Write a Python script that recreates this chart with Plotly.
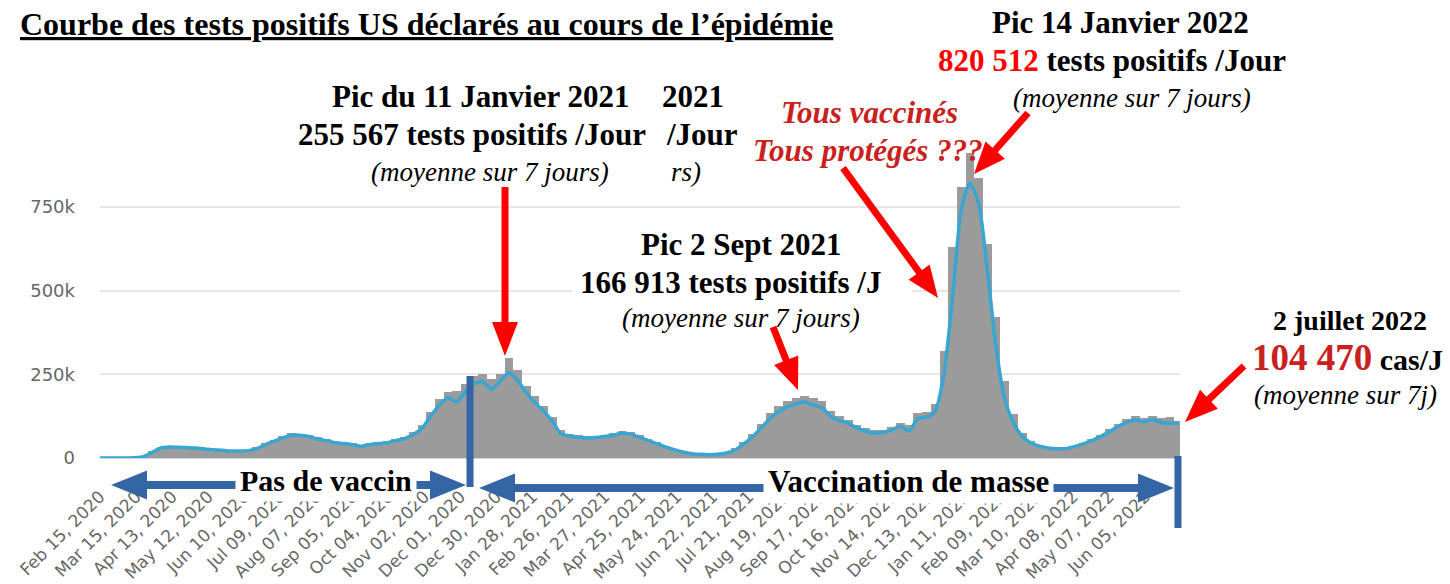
import math
import pandas as pd
import plotly.graph_objects as go

# ---------------- data ----------------
first_week = "2020-02-15"          # weekly points, 7 days apart, up to 2022-07-02
# 7-day average of positive tests, thousands
avg7_k = [0, 0, 0, 0.1, 0.6, 4, 17, 30, 33, 32,
          31, 30, 27, 25, 23, 21, 21, 22, 28, 40,
          50, 60, 68, 68, 64, 57, 52, 46, 43, 40,
          35, 40, 43, 46, 52, 58, 70, 88, 125, 158,
          180, 168, 198, 222, 228, 205, 230, 255, 232, 195,
          165, 140, 110, 72, 66, 62, 60, 61, 64, 68,
          74, 71, 62, 52, 43, 33, 25, 18, 13, 11,
          10, 11, 15, 24, 42, 63, 90, 118, 138, 152,
          162, 167, 158, 150, 124, 112, 103, 90, 80, 75,
          76, 84, 94, 80, 118, 122, 140, 250, 480, 740,
          820, 760, 560, 330, 175, 105, 65, 45, 35, 30,
          28, 28, 34, 42, 52, 64, 78, 94, 106, 114,
          108, 115, 106, 104, 104]
# highest daily count of each week, thousands (grey bars)
daily_high_k = [0, 0, 0, 0.2, 1, 6, 21, 33, 35, 34,
                33, 32, 29, 27, 25, 23, 23, 25, 32, 45,
                55, 66, 74, 73, 68, 62, 56, 50, 47, 44,
                40, 44, 47, 50, 56, 64, 78, 98, 138, 175,
                198, 200, 222, 245, 250, 235, 252, 300, 262, 215,
                185, 155, 122, 84, 72, 68, 66, 67, 70, 75,
                80, 77, 68, 58, 48, 37, 28, 21, 16, 13,
                12, 13, 18, 29, 48, 72, 102, 135, 155, 170,
                178, 186, 180, 170, 140, 125, 115, 100, 90, 83,
                84, 93, 105, 100, 135, 136, 160, 320, 630, 810,
                910, 835, 640, 420, 230, 130, 75, 50, 38, 33,
                30, 31, 37, 46, 57, 70, 86, 103, 118, 124,
                120, 126, 120, 122, 112]

x_tick_labels = ["Feb 15, 2020", "Mar 15, 2020", "Apr 13, 2020", "May 12, 2020", "Jun 10, 2020",
                 "Jul 09, 2020", "Aug 07, 2020", "Sep 05, 2020", "Oct 04, 2020", "Nov 02, 2020",
                 "Dec 01, 2020", "Dec 30, 2020", "Jan 28, 2021", "Feb 26, 2021", "Mar 27, 2021",
                 "Apr 25, 2021", "May 24, 2021", "Jun 22, 2021", "Jul 21, 2021", "Aug 19, 2021",
                 "Sep 17, 2021", "Oct 16, 2021", "Nov 14, 2021", "Dec 13, 2021", "Jan 11, 2022",
                 "Feb 09, 2022", "Mar 10, 2022", "Apr 08, 2022", "May 07, 2022", "Jun 05, 2022"]
y_tick_values = [0, 250000, 500000, 750000]
y_tick_labels = ["0", "250k", "500k", "750k"]

# ---------------- build ----------------
weeks = pd.date_range(first_week, periods=len(avg7_k), freq="7D")
avg7 = [v * 1000 for v in avg7_k]
daily_high = [v * 1000 for v in daily_high_k]
tick_dates = pd.to_datetime(x_tick_labels, format="%b %d, %Y")

fig = go.Figure()
fig.add_trace(go.Bar(x=weeks, y=daily_high, width=7 * 86400000,
                     marker=dict(color="#9b9b9b", line=dict(width=0)), hoverinfo="skip"))
fig.add_trace(go.Scatter(x=weeks, y=avg7, mode="lines",
                         line=dict(color="#38a6d0", width=3.5, shape="spline", smoothing=0.7),
                         hoverinfo="skip"))

# plot area in pixels (for decorations)
L_PX, R_PX, T_PX, B_PX = 100, 1180, 140, 458
W, H = 1450, 584


def fx(x):
    return (x - L_PX) / (R_PX - L_PX)


def fy(y):
    return (B_PX - y) / (B_PX - T_PX)


shapes = []


def add_line(x0, y0, x1, y1, color, w):
    shapes.append(dict(type="line", xref="paper", yref="paper", layer="above",
                       x0=fx(x0), y0=fy(y0), x1=fx(x1), y1=fy(y1),
                       line=dict(color=color, width=w)))


def head(tip, frm, hl, hw, color):
    dx, dy = tip[0] - frm[0], tip[1] - frm[1]
    n = math.hypot(dx, dy)
    ux, uy = dx / n, dy / n
    bx, by = tip[0] - ux * hl, tip[1] - uy * hl
    nx, ny = -uy, ux
    p1 = (bx + nx * hw / 2, by + ny * hw / 2)
    p2 = (bx - nx * hw / 2, by - ny * hw / 2)
    path = "M {},{} L {},{} L {},{} Z".format(fx(tip[0]), fy(tip[1]), fx(p1[0]), fy(p1[1]),
                                              fx(p2[0]), fy(p2[1]))
    shapes.append(dict(type="path", xref="paper", yref="paper", layer="above", path=path,
                       fillcolor=color, line=dict(width=0, color=color)))
    return (tip[0] - ux * (hl - 2), tip[1] - uy * (hl - 2))


def arrow(tail, tip, color, w, hl, hw, double=False):
    end = head(tip, tail, hl, hw, color)
    start = head(tail, tip, hl, hw, color) if double else tail
    add_line(start[0], start[1], end[0], end[1], color, w)


BLUE = "#3465a4"
RED = "#ff0000"
DARKRED = "#c9211e"

# vaccination arrows and markers
arrow((111, 485), (466, 485), BLUE, 8, 36, 29, double=True)
arrow((479, 488), (1174, 488), BLUE, 8, 36, 29, double=True)
add_line(470, 376, 470, 487, BLUE, 7)
add_line(1178, 456, 1178, 528, BLUE, 7)

# white box behind the September text
shapes.append(dict(type="rect", xref="paper", yref="paper", layer="above",
                   x0=fx(572), x1=fx(912), y0=fy(336), y1=fy(224),
                   fillcolor="white", line=dict(width=0)))

# red arrows
arrow((505, 187), (505, 356), RED, 7, 34, 26)
arrow((773, 327), (798, 390), RED, 7, 32, 26)
arrow((843, 168), (938, 298), RED, 7, 32, 26)
arrow((1028, 113), (974, 174), RED, 7, 32, 26)
arrow((1244, 366), (1185, 422), RED, 7, 33, 26)

annotations = []
SERIF = "Liberation Serif"


def ann(text, x, y, size, color="black", xanchor="center", bg=None, width=None, pad=1):
    d = dict(text=text, xref="paper", yref="paper", x=fx(x), y=fy(y), xanchor=xanchor,
             yanchor="middle", showarrow=False, align="center", borderpad=pad,
             font=dict(family=SERIF, size=size, color=color))
    if bg:
        d["bgcolor"] = bg
    if width:
        d["width"] = width
    annotations.append(d)


ann("<u><b>Courbe des tests positifs US déclarés au cours de l’épidémie</b></u>", 18, 24, 32,
    xanchor="left")

ann("<b>Pic du 11 Janvier 2021</b>", 480, 97, 31)
ann("<b>255 567 tests positifs /Jour</b>", 472, 134, 31)
ann("<i>(moyenne sur 7 jours)</i>", 490, 172, 27)
# leftovers of a hidden copy of the same text
ann("<b>2021</b>", 693, 97, 31)
ann("<b>/Jour</b>", 702, 134, 31)
ann("<i>rs)</i>", 686, 172, 27)

ann("<b>Pic 14 Janvier 2022</b>", 1120, 22, 31)
ann("<b><span style='color:#ff0000'>820 512</span> tests positifs /Jour</b>", 1112, 60, 31)
ann("<i>(moyenne sur 7 jours)</i>", 1132, 98, 27)

ann("<b><i>Tous vaccinés</i></b>", 870, 113, 31, color=DARKRED)
ann("<b><i>Tous protégés ???</i></b>", 868, 150, 31, color=DARKRED)

ann("<b>Pic 2 Sept 2021</b>", 741, 244, 31)
ann("<b>166 913 tests positifs /J</b>", 730, 282, 31)
ann("<i>(moyenne sur 7 jours)</i>", 741, 318, 27)

ann("<b>2 juillet 2022</b>", 1350, 320, 28)
ann("<b><span style='color:#c9211e;font-size:37px'>104 470</span> cas/J</b>", 1347, 357, 30)
ann("<i>(moyenne sur 7j)</i>", 1345, 395, 27)

ann("<b>Pas de vaccin</b>", 326, 480, 30, bg="white", pad=4)
ann("<b>Vaccination de masse</b>", 908, 481, 31, bg="white", pad=4)

fig.update_layout(
    width=W, height=H,
    margin=dict(l=L_PX, r=W - R_PX, t=T_PX, b=H - B_PX, autoexpand=False),
    paper_bgcolor="white", plot_bgcolor="white",
    showlegend=False, bargap=0, hovermode=False,
    shapes=shapes, annotations=annotations,
    xaxis=dict(type="date", range=[weeks[0], weeks[-1] + pd.Timedelta(days=1)],
               tickmode="array", tickvals=tick_dates, ticktext=x_tick_labels,
               tickangle=-45, ticks="", ticklabelstandoff=21, automargin=False,
               tickfont=dict(family="DejaVu Sans", size=17, color="#666666"),
               showgrid=False, showline=True, linecolor="#ccd6eb", linewidth=1,
               zeroline=False),
    yaxis=dict(range=[0, 950000], tickmode="array", tickvals=y_tick_values,
               ticktext=y_tick_labels, ticks="", ticklabelstandoff=24, automargin=False,
               tickfont=dict(family="DejaVu Sans", size=18, color="#666666"),
               showgrid=True, gridcolor="#e6e6e6", gridwidth=1.5, zeroline=False,
               showline=False),
)

fig.write_html("out.html", config={"displayModeBar": False},
               post_script="document.body.style.margin='0';document.body.style.overflow='hidden';")
